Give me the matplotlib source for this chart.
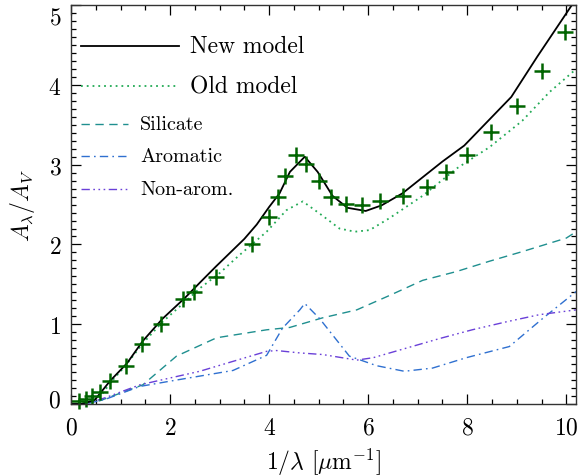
import matplotlib
matplotlib.use("Agg")
import matplotlib.pyplot as plt
from matplotlib.lines import Line2D
from matplotlib.ticker import MultipleLocator
import matplotlib.transforms as mtransforms

plt.rcParams['font.family'] = ['cmr10', 'DejaVu Serif']
plt.rcParams['mathtext.fontset'] = 'cm'
plt.rcParams['axes.formatter.use_mathtext'] = True

# observed extinction (crosses)
obs_x = [0.16, 0.30, 0.42, 0.58, 0.79, 1.11, 1.43, 1.81, 2.26, 2.48, 2.92, 3.65,
         3.99, 4.17, 4.33, 4.54, 4.74, 5.00, 5.24, 5.56, 5.87, 6.23, 6.71, 7.18,
         7.58, 8.00, 8.49, 9.01, 9.50, 9.98]
obs_y = [0.04, 0.06, 0.10, 0.15, 0.29, 0.48, 0.75, 1.00, 1.31, 1.41, 1.59, 2.00,
         2.35, 2.59, 2.86, 3.12, 3.01, 2.79, 2.59, 2.51, 2.49, 2.55, 2.61, 2.72,
         2.91, 3.12, 3.41, 3.74, 4.18, 4.66]

# new model
new_x = [0.0, 0.20, 0.38, 0.48, 0.79, 1.13, 1.45, 1.85, 2.30, 2.60, 2.92, 3.50,
         3.75, 4.00, 4.21, 4.42, 4.72, 4.98, 5.28, 5.58, 5.95, 6.27, 6.69, 7.50,
         7.94, 8.89, 9.42, 10.1]
new_y = [0.0, 0.0, 0.03, 0.05, 0.29, 0.51, 0.79, 1.07, 1.33, 1.52, 1.72, 2.07,
         2.25, 2.47, 2.64, 2.91, 3.10, 2.91, 2.61, 2.46, 2.42, 2.49, 2.64, 3.04,
         3.24, 3.85, 4.36, 4.99]

# old model
old_x = [0.0, 0.20, 0.40, 0.60, 0.80, 1.10, 1.45, 1.85, 2.30, 2.60, 3.00, 3.37,
         3.95, 4.35, 4.68, 5.08, 5.42, 5.73, 6.03, 6.43, 7.10, 7.78, 8.45, 9.11,
         9.66, 10.2]
old_y = [0.0, 0.0, 0.03, 0.10, 0.27, 0.48, 0.76, 1.03, 1.28, 1.45, 1.64, 1.85,
         2.16, 2.43, 2.54, 2.36, 2.20, 2.16, 2.18, 2.33, 2.61, 2.95, 3.22, 3.55,
         3.91, 4.20]

# silicate
sil_x = [0.0, 0.20, 0.58, 1.45, 2.13, 2.94, 3.95, 4.42, 5.08, 5.77, 6.43, 7.10,
         7.78, 8.45, 9.11, 10.0, 10.2]
sil_y = [0.0, 0.0, 0.04, 0.24, 0.60, 0.83, 0.93, 0.96, 1.08, 1.18, 1.36, 1.55,
         1.66, 1.79, 1.91, 2.08, 2.16]

# aromatic
aro_x = [0.0, 0.30, 0.70, 1.39, 2.13, 3.27, 3.95, 4.27, 4.62, 4.72, 5.02, 5.62,
         6.17, 6.73, 7.30, 7.98, 8.85, 9.52, 10.2]
aro_y = [0.0, 0.0, 0.06, 0.22, 0.30, 0.42, 0.61, 0.95, 1.18, 1.26, 1.07, 0.60,
         0.48, 0.41, 0.45, 0.58, 0.72, 1.07, 1.41]

# non-aromatic
non_x = [0.0, 0.30, 0.70, 1.39, 2.60, 3.95, 4.15, 4.62, 5.08, 5.77, 6.10, 6.77,
         7.44, 8.10, 8.79, 9.46, 10.2]
non_y = [0.0, 0.0, 0.08, 0.24, 0.41, 0.66, 0.67, 0.64, 0.62, 0.55, 0.58, 0.70,
         0.82, 0.93, 1.03, 1.12, 1.18]

c_obs = '#006400'
c_new = 'black'
c_old = '#22aa55'
c_sil = '#1f8f8f'
c_aro = '#2f70d0'
c_non = '#6a40d8'

ls_sil = (0, (6, 4))
ls_aro = (0, (6, 3, 1.2, 3))
ls_non = (0, (6, 2.5, 1.2, 2.5, 1.2, 2.5, 1.2, 2.5))
ls_old = (0, (1, 2.2))

fig = plt.figure(figsize=(5.82, 4.77), dpi=100)
ax = fig.add_axes([0.122, 0.151, 0.868, 0.836])

ax.plot(sil_x, sil_y, color=c_sil, lw=1.0, linestyle=ls_sil)
ax.plot(aro_x, aro_y, color=c_aro, lw=1.0, linestyle=ls_aro)
ax.plot(non_x, non_y, color=c_non, lw=1.0, linestyle=ls_non)
ax.plot(old_x, old_y, color=c_old, lw=1.3, linestyle=ls_old)
ax.plot(new_x, new_y, color=c_new, lw=1.3)
ax.plot(obs_x, obs_y, linestyle='none', marker='+', color=c_obs, ms=12, mew=1.8,
        clip_on=False)

ax.set_xlim(0, 10.2)
ax.set_ylim(0, 5)
ax.xaxis.set_major_locator(MultipleLocator(2))
ax.xaxis.set_minor_locator(MultipleLocator(0.5))
ax.yaxis.set_major_locator(MultipleLocator(1))
ax.yaxis.set_minor_locator(MultipleLocator(0.1))
ax.tick_params(which='both', direction='in', top=True, right=True, labelsize=17)
ax.tick_params(which='major', length=7, width=0.9)
ax.tick_params(which='minor', length=3.5, width=0.9)
ax.tick_params(axis='x', pad=9)
ax.tick_params(axis='y', pad=7)
for s in ax.spines.values():
    s.set_linewidth(1.0)
    s.set_color('#333333')

ax.set_xlabel(r'1/$\lambda$ [$\mu$m$^{-1}$]', fontsize=17, labelpad=5)
ax.set_ylabel(r'$A_\lambda/A_V$', fontsize=17, labelpad=8)

# hand-drawn legend, like the original
big = [('New model', c_new, '-', 0.897), ('Old model', c_old, ls_old, 0.797)]
for lab, col, ls, yy in big:
    ax.add_line(Line2D([0.02, 0.214], [yy, yy], transform=ax.transAxes,
                       color=col, lw=1.3, linestyle=ls))
    ax.text(0.236, yy, lab, transform=ax.transAxes, fontsize=17, va='center')

small = [('Silicate', c_sil, ls_sil, 0.702),
         ('Aromatic', c_aro, ls_aro, 0.622),
         ('Non-arom.', c_non, ls_non, 0.539)]
for lab, col, ls, yy in small:
    ax.add_line(Line2D([0.02, 0.113], [yy, yy], transform=ax.transAxes,
                       color=col, lw=1.0, linestyle=ls))
    ax.text(0.137, yy, lab, transform=ax.transAxes, fontsize=14.5, va='center')

# end labels sit inside the frame
fig.canvas.draw()
for lab in ax.get_yticklabels():
    if lab.get_text() in ('0', '$\\mathdefault{0}$'):
        lab.set_transform(lab.get_transform() + mtransforms.ScaledTranslation(0, 6 / 100, fig.dpi_scale_trans))
    if lab.get_text() in ('5', '$\\mathdefault{5}$'):
        lab.set_transform(lab.get_transform() + mtransforms.ScaledTranslation(0, -10 / 100, fig.dpi_scale_trans))

fig.savefig('out.png', dpi=100)
